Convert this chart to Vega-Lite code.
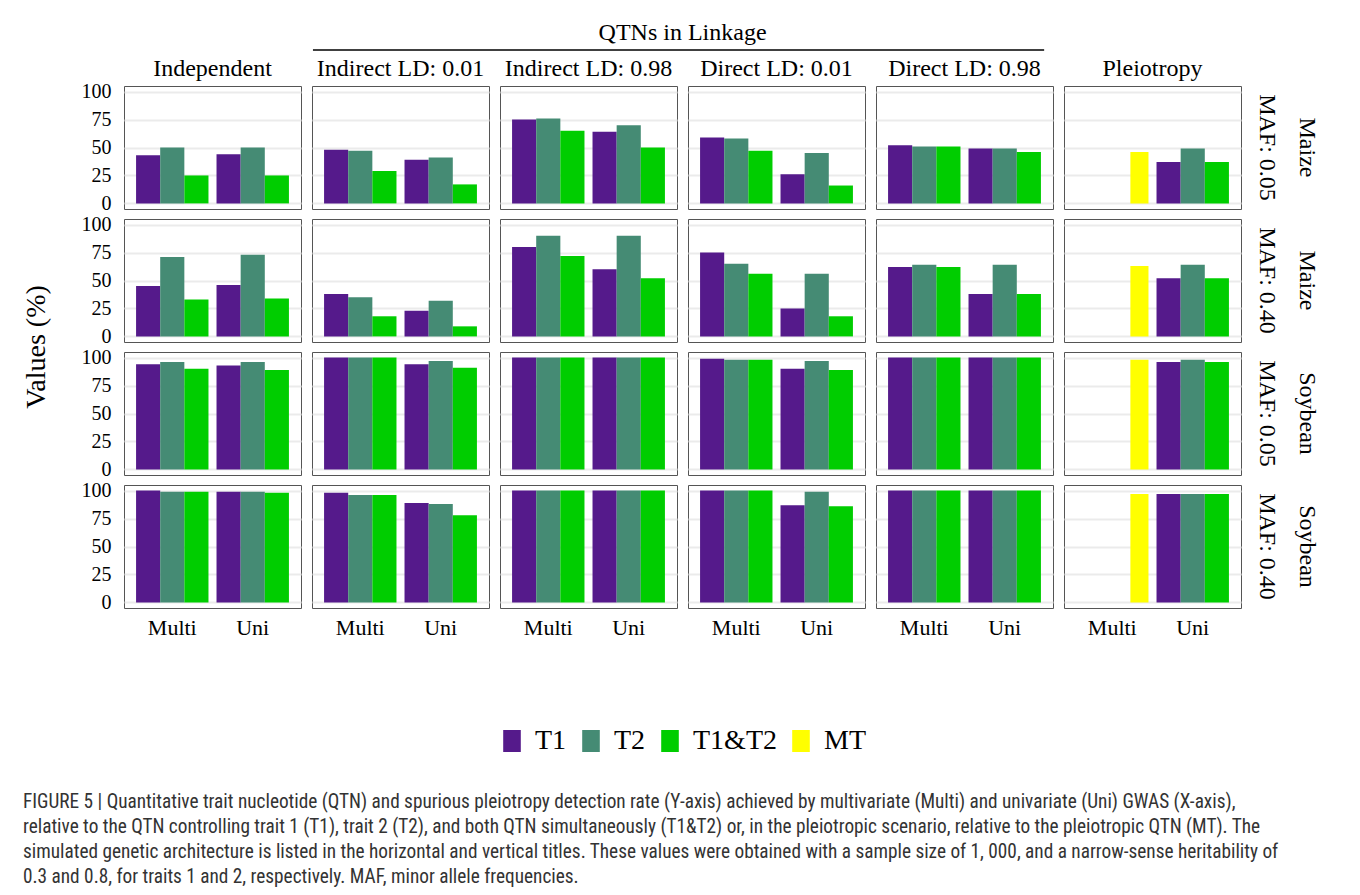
{
  "$schema": "https://vega.github.io/schema/vega-lite/v6.json",
  "padding": {"top": 21, "left": 22, "right": 10, "bottom": 5},
  "background": "white",
  "bounds": "flush",
  "spacing": 36,
  "title": {
    "text": [
      "FIGURE 5 | Quantitative trait nucleotide (QTN) and spurious pleiotropy detection rate (Y-axis) achieved by multivariate (Multi) and univariate (Uni) GWAS (X-axis),",
      "relative to the QTN controlling trait 1 (T1), trait 2 (T2), and both QTN simultaneously (T1&T2) or, in the pleiotropic scenario, relative to the pleiotropic QTN (MT). The",
      "simulated genetic architecture is listed in the horizontal and vertical titles. These values were obtained with a sample size of 1, 000, and a narrow-sense heritability of",
      "0.3 and 0.8, for traits 1 and 2, respectively. MAF, minor allele frequencies."
    ],
    "orient": "bottom",
    "anchor": "start",
    "frame": "bounds",
    "font": "Liberation Sans Narrow, Roboto Condensed, Liberation Sans",
    "fontSize": 19.3,
    "fontWeight": "normal",
    "color": "#333333",
    "lineHeight": 25,
    "offset": 38
  },
  "config": {
    "font": "Liberation Serif",
    "view": {"stroke": "#555555", "strokeWidth": 1},
    "axis": {
      "labelFont": "Liberation Serif",
      "titleFont": "Liberation Serif",
      "labelColor": "black",
      "titleColor": "black",
      "ticks": false,
      "domain": false
    },
    "axisY": {
      "labelOverlap": false,
      "labelFontSize": 20,
      "labelPadding": 12,
      "gridColor": "#EBEBEB",
      "gridWidth": 2
    },
    "header": {
      "labelFont": "Liberation Serif",
      "labelFontSize": 24,
      "labelColor": "black",
      "titleFont": "Liberation Serif",
      "titleColor": "black"
    },
    "legend": {
      "layout": {"bottom": {"anchor": "middle"}}
    }
  },
  "datasets": {
    "bars": [
      {"scenario": "Independent", "row": "Maize, MAF: 0.05", "method": "Multi", "trait": "T1", "value": 43},
      {"scenario": "Independent", "row": "Maize, MAF: 0.05", "method": "Multi", "trait": "T2", "value": 50},
      {"scenario": "Independent", "row": "Maize, MAF: 0.05", "method": "Multi", "trait": "T1&T2", "value": 25},
      {"scenario": "Independent", "row": "Maize, MAF: 0.05", "method": "Uni", "trait": "T1", "value": 44},
      {"scenario": "Independent", "row": "Maize, MAF: 0.05", "method": "Uni", "trait": "T2", "value": 50},
      {"scenario": "Independent", "row": "Maize, MAF: 0.05", "method": "Uni", "trait": "T1&T2", "value": 25},
      {"scenario": "Indirect LD: 0.01", "row": "Maize, MAF: 0.05", "method": "Multi", "trait": "T1", "value": 48},
      {"scenario": "Indirect LD: 0.01", "row": "Maize, MAF: 0.05", "method": "Multi", "trait": "T2", "value": 47},
      {"scenario": "Indirect LD: 0.01", "row": "Maize, MAF: 0.05", "method": "Multi", "trait": "T1&T2", "value": 29},
      {"scenario": "Indirect LD: 0.01", "row": "Maize, MAF: 0.05", "method": "Uni", "trait": "T1", "value": 39},
      {"scenario": "Indirect LD: 0.01", "row": "Maize, MAF: 0.05", "method": "Uni", "trait": "T2", "value": 41},
      {"scenario": "Indirect LD: 0.01", "row": "Maize, MAF: 0.05", "method": "Uni", "trait": "T1&T2", "value": 17},
      {"scenario": "Indirect LD: 0.98", "row": "Maize, MAF: 0.05", "method": "Multi", "trait": "T1", "value": 75},
      {"scenario": "Indirect LD: 0.98", "row": "Maize, MAF: 0.05", "method": "Multi", "trait": "T2", "value": 76},
      {"scenario": "Indirect LD: 0.98", "row": "Maize, MAF: 0.05", "method": "Multi", "trait": "T1&T2", "value": 65},
      {"scenario": "Indirect LD: 0.98", "row": "Maize, MAF: 0.05", "method": "Uni", "trait": "T1", "value": 64},
      {"scenario": "Indirect LD: 0.98", "row": "Maize, MAF: 0.05", "method": "Uni", "trait": "T2", "value": 70},
      {"scenario": "Indirect LD: 0.98", "row": "Maize, MAF: 0.05", "method": "Uni", "trait": "T1&T2", "value": 50},
      {"scenario": "Direct LD: 0.01", "row": "Maize, MAF: 0.05", "method": "Multi", "trait": "T1", "value": 59},
      {"scenario": "Direct LD: 0.01", "row": "Maize, MAF: 0.05", "method": "Multi", "trait": "T2", "value": 58},
      {"scenario": "Direct LD: 0.01", "row": "Maize, MAF: 0.05", "method": "Multi", "trait": "T1&T2", "value": 47},
      {"scenario": "Direct LD: 0.01", "row": "Maize, MAF: 0.05", "method": "Uni", "trait": "T1", "value": 26},
      {"scenario": "Direct LD: 0.01", "row": "Maize, MAF: 0.05", "method": "Uni", "trait": "T2", "value": 45},
      {"scenario": "Direct LD: 0.01", "row": "Maize, MAF: 0.05", "method": "Uni", "trait": "T1&T2", "value": 16},
      {"scenario": "Direct LD: 0.98", "row": "Maize, MAF: 0.05", "method": "Multi", "trait": "T1", "value": 52},
      {"scenario": "Direct LD: 0.98", "row": "Maize, MAF: 0.05", "method": "Multi", "trait": "T2", "value": 51},
      {"scenario": "Direct LD: 0.98", "row": "Maize, MAF: 0.05", "method": "Multi", "trait": "T1&T2", "value": 51},
      {"scenario": "Direct LD: 0.98", "row": "Maize, MAF: 0.05", "method": "Uni", "trait": "T1", "value": 49},
      {"scenario": "Direct LD: 0.98", "row": "Maize, MAF: 0.05", "method": "Uni", "trait": "T2", "value": 49},
      {"scenario": "Direct LD: 0.98", "row": "Maize, MAF: 0.05", "method": "Uni", "trait": "T1&T2", "value": 46},
      {"scenario": "Pleiotropy", "row": "Maize, MAF: 0.05", "method": "Multi", "trait": "MT", "value": 46},
      {"scenario": "Pleiotropy", "row": "Maize, MAF: 0.05", "method": "Uni", "trait": "T1", "value": 37},
      {"scenario": "Pleiotropy", "row": "Maize, MAF: 0.05", "method": "Uni", "trait": "T2", "value": 49},
      {"scenario": "Pleiotropy", "row": "Maize, MAF: 0.05", "method": "Uni", "trait": "T1&T2", "value": 37},

      {"scenario": "Independent", "row": "Maize, MAF: 0.40", "method": "Multi", "trait": "T1", "value": 45},
      {"scenario": "Independent", "row": "Maize, MAF: 0.40", "method": "Multi", "trait": "T2", "value": 71},
      {"scenario": "Independent", "row": "Maize, MAF: 0.40", "method": "Multi", "trait": "T1&T2", "value": 33},
      {"scenario": "Independent", "row": "Maize, MAF: 0.40", "method": "Uni", "trait": "T1", "value": 46},
      {"scenario": "Independent", "row": "Maize, MAF: 0.40", "method": "Uni", "trait": "T2", "value": 73},
      {"scenario": "Independent", "row": "Maize, MAF: 0.40", "method": "Uni", "trait": "T1&T2", "value": 34},
      {"scenario": "Indirect LD: 0.01", "row": "Maize, MAF: 0.40", "method": "Multi", "trait": "T1", "value": 38},
      {"scenario": "Indirect LD: 0.01", "row": "Maize, MAF: 0.40", "method": "Multi", "trait": "T2", "value": 35},
      {"scenario": "Indirect LD: 0.01", "row": "Maize, MAF: 0.40", "method": "Multi", "trait": "T1&T2", "value": 18},
      {"scenario": "Indirect LD: 0.01", "row": "Maize, MAF: 0.40", "method": "Uni", "trait": "T1", "value": 23},
      {"scenario": "Indirect LD: 0.01", "row": "Maize, MAF: 0.40", "method": "Uni", "trait": "T2", "value": 32},
      {"scenario": "Indirect LD: 0.01", "row": "Maize, MAF: 0.40", "method": "Uni", "trait": "T1&T2", "value": 9},
      {"scenario": "Indirect LD: 0.98", "row": "Maize, MAF: 0.40", "method": "Multi", "trait": "T1", "value": 80},
      {"scenario": "Indirect LD: 0.98", "row": "Maize, MAF: 0.40", "method": "Multi", "trait": "T2", "value": 90},
      {"scenario": "Indirect LD: 0.98", "row": "Maize, MAF: 0.40", "method": "Multi", "trait": "T1&T2", "value": 72},
      {"scenario": "Indirect LD: 0.98", "row": "Maize, MAF: 0.40", "method": "Uni", "trait": "T1", "value": 60},
      {"scenario": "Indirect LD: 0.98", "row": "Maize, MAF: 0.40", "method": "Uni", "trait": "T2", "value": 90},
      {"scenario": "Indirect LD: 0.98", "row": "Maize, MAF: 0.40", "method": "Uni", "trait": "T1&T2", "value": 52},
      {"scenario": "Direct LD: 0.01", "row": "Maize, MAF: 0.40", "method": "Multi", "trait": "T1", "value": 75},
      {"scenario": "Direct LD: 0.01", "row": "Maize, MAF: 0.40", "method": "Multi", "trait": "T2", "value": 65},
      {"scenario": "Direct LD: 0.01", "row": "Maize, MAF: 0.40", "method": "Multi", "trait": "T1&T2", "value": 56},
      {"scenario": "Direct LD: 0.01", "row": "Maize, MAF: 0.40", "method": "Uni", "trait": "T1", "value": 25},
      {"scenario": "Direct LD: 0.01", "row": "Maize, MAF: 0.40", "method": "Uni", "trait": "T2", "value": 56},
      {"scenario": "Direct LD: 0.01", "row": "Maize, MAF: 0.40", "method": "Uni", "trait": "T1&T2", "value": 18},
      {"scenario": "Direct LD: 0.98", "row": "Maize, MAF: 0.40", "method": "Multi", "trait": "T1", "value": 62},
      {"scenario": "Direct LD: 0.98", "row": "Maize, MAF: 0.40", "method": "Multi", "trait": "T2", "value": 64},
      {"scenario": "Direct LD: 0.98", "row": "Maize, MAF: 0.40", "method": "Multi", "trait": "T1&T2", "value": 62},
      {"scenario": "Direct LD: 0.98", "row": "Maize, MAF: 0.40", "method": "Uni", "trait": "T1", "value": 38},
      {"scenario": "Direct LD: 0.98", "row": "Maize, MAF: 0.40", "method": "Uni", "trait": "T2", "value": 64},
      {"scenario": "Direct LD: 0.98", "row": "Maize, MAF: 0.40", "method": "Uni", "trait": "T1&T2", "value": 38},
      {"scenario": "Pleiotropy", "row": "Maize, MAF: 0.40", "method": "Multi", "trait": "MT", "value": 63},
      {"scenario": "Pleiotropy", "row": "Maize, MAF: 0.40", "method": "Uni", "trait": "T1", "value": 52},
      {"scenario": "Pleiotropy", "row": "Maize, MAF: 0.40", "method": "Uni", "trait": "T2", "value": 64},
      {"scenario": "Pleiotropy", "row": "Maize, MAF: 0.40", "method": "Uni", "trait": "T1&T2", "value": 52},

      {"scenario": "Independent", "row": "Soybean, MAF: 0.05", "method": "Multi", "trait": "T1", "value": 94},
      {"scenario": "Independent", "row": "Soybean, MAF: 0.05", "method": "Multi", "trait": "T2", "value": 96},
      {"scenario": "Independent", "row": "Soybean, MAF: 0.05", "method": "Multi", "trait": "T1&T2", "value": 90},
      {"scenario": "Independent", "row": "Soybean, MAF: 0.05", "method": "Uni", "trait": "T1", "value": 93},
      {"scenario": "Independent", "row": "Soybean, MAF: 0.05", "method": "Uni", "trait": "T2", "value": 96},
      {"scenario": "Independent", "row": "Soybean, MAF: 0.05", "method": "Uni", "trait": "T1&T2", "value": 89},
      {"scenario": "Indirect LD: 0.01", "row": "Soybean, MAF: 0.05", "method": "Multi", "trait": "T1", "value": 100},
      {"scenario": "Indirect LD: 0.01", "row": "Soybean, MAF: 0.05", "method": "Multi", "trait": "T2", "value": 100},
      {"scenario": "Indirect LD: 0.01", "row": "Soybean, MAF: 0.05", "method": "Multi", "trait": "T1&T2", "value": 100},
      {"scenario": "Indirect LD: 0.01", "row": "Soybean, MAF: 0.05", "method": "Uni", "trait": "T1", "value": 94},
      {"scenario": "Indirect LD: 0.01", "row": "Soybean, MAF: 0.05", "method": "Uni", "trait": "T2", "value": 97},
      {"scenario": "Indirect LD: 0.01", "row": "Soybean, MAF: 0.05", "method": "Uni", "trait": "T1&T2", "value": 91},
      {"scenario": "Indirect LD: 0.98", "row": "Soybean, MAF: 0.05", "method": "Multi", "trait": "T1", "value": 100},
      {"scenario": "Indirect LD: 0.98", "row": "Soybean, MAF: 0.05", "method": "Multi", "trait": "T2", "value": 100},
      {"scenario": "Indirect LD: 0.98", "row": "Soybean, MAF: 0.05", "method": "Multi", "trait": "T1&T2", "value": 100},
      {"scenario": "Indirect LD: 0.98", "row": "Soybean, MAF: 0.05", "method": "Uni", "trait": "T1", "value": 100},
      {"scenario": "Indirect LD: 0.98", "row": "Soybean, MAF: 0.05", "method": "Uni", "trait": "T2", "value": 100},
      {"scenario": "Indirect LD: 0.98", "row": "Soybean, MAF: 0.05", "method": "Uni", "trait": "T1&T2", "value": 100},
      {"scenario": "Direct LD: 0.01", "row": "Soybean, MAF: 0.05", "method": "Multi", "trait": "T1", "value": 99},
      {"scenario": "Direct LD: 0.01", "row": "Soybean, MAF: 0.05", "method": "Multi", "trait": "T2", "value": 98},
      {"scenario": "Direct LD: 0.01", "row": "Soybean, MAF: 0.05", "method": "Multi", "trait": "T1&T2", "value": 98},
      {"scenario": "Direct LD: 0.01", "row": "Soybean, MAF: 0.05", "method": "Uni", "trait": "T1", "value": 90},
      {"scenario": "Direct LD: 0.01", "row": "Soybean, MAF: 0.05", "method": "Uni", "trait": "T2", "value": 97},
      {"scenario": "Direct LD: 0.01", "row": "Soybean, MAF: 0.05", "method": "Uni", "trait": "T1&T2", "value": 89},
      {"scenario": "Direct LD: 0.98", "row": "Soybean, MAF: 0.05", "method": "Multi", "trait": "T1", "value": 100},
      {"scenario": "Direct LD: 0.98", "row": "Soybean, MAF: 0.05", "method": "Multi", "trait": "T2", "value": 100},
      {"scenario": "Direct LD: 0.98", "row": "Soybean, MAF: 0.05", "method": "Multi", "trait": "T1&T2", "value": 100},
      {"scenario": "Direct LD: 0.98", "row": "Soybean, MAF: 0.05", "method": "Uni", "trait": "T1", "value": 100},
      {"scenario": "Direct LD: 0.98", "row": "Soybean, MAF: 0.05", "method": "Uni", "trait": "T2", "value": 100},
      {"scenario": "Direct LD: 0.98", "row": "Soybean, MAF: 0.05", "method": "Uni", "trait": "T1&T2", "value": 100},
      {"scenario": "Pleiotropy", "row": "Soybean, MAF: 0.05", "method": "Multi", "trait": "MT", "value": 98},
      {"scenario": "Pleiotropy", "row": "Soybean, MAF: 0.05", "method": "Uni", "trait": "T1", "value": 96},
      {"scenario": "Pleiotropy", "row": "Soybean, MAF: 0.05", "method": "Uni", "trait": "T2", "value": 98},
      {"scenario": "Pleiotropy", "row": "Soybean, MAF: 0.05", "method": "Uni", "trait": "T1&T2", "value": 96},

      {"scenario": "Independent", "row": "Soybean, MAF: 0.40", "method": "Multi", "trait": "T1", "value": 100},
      {"scenario": "Independent", "row": "Soybean, MAF: 0.40", "method": "Multi", "trait": "T2", "value": 99},
      {"scenario": "Independent", "row": "Soybean, MAF: 0.40", "method": "Multi", "trait": "T1&T2", "value": 99},
      {"scenario": "Independent", "row": "Soybean, MAF: 0.40", "method": "Uni", "trait": "T1", "value": 99},
      {"scenario": "Independent", "row": "Soybean, MAF: 0.40", "method": "Uni", "trait": "T2", "value": 99},
      {"scenario": "Independent", "row": "Soybean, MAF: 0.40", "method": "Uni", "trait": "T1&T2", "value": 98},
      {"scenario": "Indirect LD: 0.01", "row": "Soybean, MAF: 0.40", "method": "Multi", "trait": "T1", "value": 98},
      {"scenario": "Indirect LD: 0.01", "row": "Soybean, MAF: 0.40", "method": "Multi", "trait": "T2", "value": 96},
      {"scenario": "Indirect LD: 0.01", "row": "Soybean, MAF: 0.40", "method": "Multi", "trait": "T1&T2", "value": 96},
      {"scenario": "Indirect LD: 0.01", "row": "Soybean, MAF: 0.40", "method": "Uni", "trait": "T1", "value": 89},
      {"scenario": "Indirect LD: 0.01", "row": "Soybean, MAF: 0.40", "method": "Uni", "trait": "T2", "value": 88},
      {"scenario": "Indirect LD: 0.01", "row": "Soybean, MAF: 0.40", "method": "Uni", "trait": "T1&T2", "value": 78},
      {"scenario": "Indirect LD: 0.98", "row": "Soybean, MAF: 0.40", "method": "Multi", "trait": "T1", "value": 100},
      {"scenario": "Indirect LD: 0.98", "row": "Soybean, MAF: 0.40", "method": "Multi", "trait": "T2", "value": 100},
      {"scenario": "Indirect LD: 0.98", "row": "Soybean, MAF: 0.40", "method": "Multi", "trait": "T1&T2", "value": 100},
      {"scenario": "Indirect LD: 0.98", "row": "Soybean, MAF: 0.40", "method": "Uni", "trait": "T1", "value": 100},
      {"scenario": "Indirect LD: 0.98", "row": "Soybean, MAF: 0.40", "method": "Uni", "trait": "T2", "value": 100},
      {"scenario": "Indirect LD: 0.98", "row": "Soybean, MAF: 0.40", "method": "Uni", "trait": "T1&T2", "value": 100},
      {"scenario": "Direct LD: 0.01", "row": "Soybean, MAF: 0.40", "method": "Multi", "trait": "T1", "value": 100},
      {"scenario": "Direct LD: 0.01", "row": "Soybean, MAF: 0.40", "method": "Multi", "trait": "T2", "value": 100},
      {"scenario": "Direct LD: 0.01", "row": "Soybean, MAF: 0.40", "method": "Multi", "trait": "T1&T2", "value": 100},
      {"scenario": "Direct LD: 0.01", "row": "Soybean, MAF: 0.40", "method": "Uni", "trait": "T1", "value": 87},
      {"scenario": "Direct LD: 0.01", "row": "Soybean, MAF: 0.40", "method": "Uni", "trait": "T2", "value": 99},
      {"scenario": "Direct LD: 0.01", "row": "Soybean, MAF: 0.40", "method": "Uni", "trait": "T1&T2", "value": 86},
      {"scenario": "Direct LD: 0.98", "row": "Soybean, MAF: 0.40", "method": "Multi", "trait": "T1", "value": 100},
      {"scenario": "Direct LD: 0.98", "row": "Soybean, MAF: 0.40", "method": "Multi", "trait": "T2", "value": 100},
      {"scenario": "Direct LD: 0.98", "row": "Soybean, MAF: 0.40", "method": "Multi", "trait": "T1&T2", "value": 100},
      {"scenario": "Direct LD: 0.98", "row": "Soybean, MAF: 0.40", "method": "Uni", "trait": "T1", "value": 100},
      {"scenario": "Direct LD: 0.98", "row": "Soybean, MAF: 0.40", "method": "Uni", "trait": "T2", "value": 100},
      {"scenario": "Direct LD: 0.98", "row": "Soybean, MAF: 0.40", "method": "Uni", "trait": "T1&T2", "value": 100},
      {"scenario": "Pleiotropy", "row": "Soybean, MAF: 0.40", "method": "Multi", "trait": "MT", "value": 97},
      {"scenario": "Pleiotropy", "row": "Soybean, MAF: 0.40", "method": "Uni", "trait": "T1", "value": 97},
      {"scenario": "Pleiotropy", "row": "Soybean, MAF: 0.40", "method": "Uni", "trait": "T2", "value": 97},
      {"scenario": "Pleiotropy", "row": "Soybean, MAF: 0.40", "method": "Uni", "trait": "T1&T2", "value": 97}
    ],
    "header": [
      {"label": "QTNs in Linkage", "center": 2.971, "start": 1.005, "end": 4.894}
    ]
  },
  "vconcat": [
    {
      "data": {"name": "header"},
      "width": 1117,
      "height": 17,
      "view": {"stroke": null},
      "layer": [
        {
          "mark": {"type": "text", "font": "Liberation Serif", "fontSize": 24, "color": "black", "baseline": "middle", "align": "center"},
          "encoding": {
            "x": {"field": "center", "type": "quantitative", "scale": {"domain": [0, 5.941], "nice": false, "zero": false}, "axis": null},
            "y": {"datum": 1, "type": "quantitative", "scale": {"domain": [0, 1], "nice": false}, "axis": null},
            "text": {"field": "label"}
          }
        },
        {
          "mark": {"type": "rule", "color": "black", "strokeWidth": 1.3},
          "encoding": {
            "x": {"field": "start", "type": "quantitative"},
            "x2": {"field": "end"},
            "y": {"datum": 0, "type": "quantitative"}
          }
        }
      ]
    },
    {
      "data": {"name": "bars"},
      "facet": {
        "row": {
          "field": "row",
          "type": "nominal",
          "sort": ["Maize, MAF: 0.05", "Maize, MAF: 0.40", "Soybean, MAF: 0.05", "Soybean, MAF: 0.40"],
          "title": "Values (%)",
          "header": {"labelAngle": 90, "labelOrient": "right", "labelExpr": "split(datum.value, ', ')", "labelFontSize": 24, "labelLineHeight": 40, "labelPadding": 13, "labelAlign": "center",
                     "titleOrient": "left", "titleFontSize": 28, "titleFontWeight": "normal", "titleAngle": -90, "titlePadding": -8}
        },
        "column": {
          "field": "scenario",
          "type": "nominal",
          "sort": ["Independent", "Indirect LD: 0.01", "Indirect LD: 0.98", "Direct LD: 0.01", "Direct LD: 0.98", "Pleiotropy"],
          "title": null,
          "header": {"labelFontSize": 24, "labelPadding": 4}
        }
      },
      "spacing": {"row": 8, "column": 9},
      "spec": {
        "width": 177,
        "height": 123,
        "layer": [
          {
            "transform": [{"filter": "datum.trait !== 'MT'"}],
            "mark": {"type": "bar"},
            "encoding": {
              "x": {"field": "method", "type": "nominal", "sort": ["Multi", "Uni"], "scale": {"paddingInner": 0.1, "paddingOuter": 0.15},
                    "axis": {"title": null, "labelAngle": 0, "labelFontSize": 22, "labelPadding": 8, "grid": false}},
              "xOffset": {"field": "trait", "type": "nominal", "sort": ["T1", "T2", "T1&T2"], "scale": {"domain": ["T1", "T2", "T1&T2"], "paddingInner": 0, "paddingOuter": 0}},
              "y": {"field": "value", "type": "quantitative", "stack": null, "scale": {"domain": [-5, 105], "nice": false, "zero": false},
                    "axis": {"title": null, "values": [0, 25, 50, 75, 100], "labelOverlap": false}},
              "color": {"field": "trait", "type": "nominal", "scale": {"domain": ["T1", "T2", "T1&T2", "MT"], "range": ["#551A8B", "#458B74", "#00CD00", "#FFFF00"]},
                        "legend": {"title": " ", "titleOrient": "left", "titleFontSize": 1, "titlePadding": 22, "orient": "bottom", "direction": "horizontal", "labelFontSize": 28, "labelFont": "Liberation Serif", "labelColor": "black", "symbolType": "M-0.8,-1H0.8V1H-0.8Z", "symbolSize": 484, "symbolStrokeWidth": 0, "symbolOpacity": 1, "labelOffset": 9, "columnPadding": 10, "offset": 89}}
            }
          },
          {
            "transform": [{"filter": "datum.trait === 'MT'"}],
            "mark": {"type": "bar"},
            "encoding": {
              "x": {"field": "method", "type": "nominal", "sort": ["Multi", "Uni"]},
              "xOffset": {"field": "trait", "type": "nominal", "scale": {"domain": ["T1", "T2", "T1&T2", "MT"], "paddingInner": 0, "paddingOuter": 0}},
              "y": {"field": "value", "type": "quantitative", "stack": null, "axis": {"title": null, "values": [0, 25, 50, 75, 100], "labelOverlap": false}},
              "color": {"field": "trait", "type": "nominal"}
            }
          }
        ],
        "resolve": {"scale": {"xOffset": "independent"}}
      }
    }
  ]
}
